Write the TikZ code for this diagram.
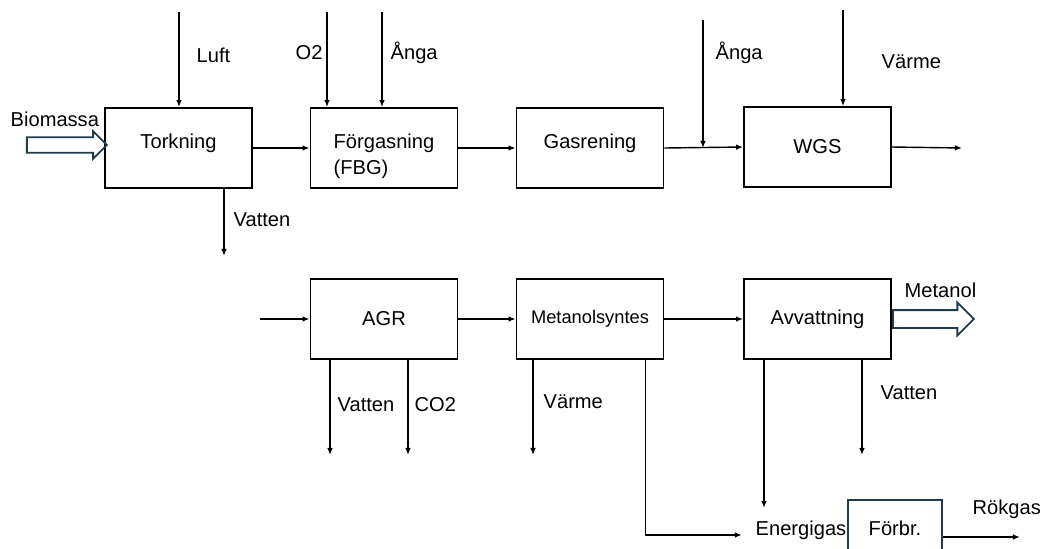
\documentclass[tikz,border=0pt]{standalone}
\usepackage{fontspec}
\setmainfont{Liberation Sans}
\usepackage{tikz}
\usetikzlibrary{arrows.meta,shapes.arrows}
\definecolor{pildark}{HTML}{1F3C4E}
\tikzset{%
  every steg/.style={
    draw,
    line width=1.3pt,
    minimum width=3.675cm,
    minimum height=2cm,
    font=\fontsize{14.3}{17}\selectfont
  },
  etikett/.style={
    anchor=base west,
    inner sep=0pt,
    font=\fontsize{14.3}{17}\selectfont
  },
  tjock pil/.style={
    single arrow,
    draw=pildark,
    line width=1.3pt,
    inner xsep=0pt,
    minimum height=2cm
  },
}

\begin{document}
\begin{tikzpicture}[>={Latex[length=5pt,width=4pt]}, x=0.025cm, y=-0.025cm, line width=1pt]
\useasboundingbox (0,0) rectangle (1040,548);

% processteg
\node[every steg, text height=9pt, text depth=9pt] (tork) at (178.5,148) {Torkning};
\node[every steg, align=left, font=\fontsize{14.3}{19}\selectfont, text height=40pt, text depth=2pt] (forg) at (384,148) {Förgasning\\(FBG)};
\node[every steg, text height=9pt, text depth=9pt] (gasr) at (590,148) {Gasrening};
\node[every steg] (wgs) at (817.5,147) {WGS};
\node[every steg] (agr) at (384,319) {AGR};
\node[every steg, font=\fontsize{13}{15}\selectfont] (msyn) at (590,319) {Metanolsyntes};
\node[every steg] (avv) at (817.5,319) {Avvattning};
\begin{scope}
    \clip (0,0) rectangle (1040,548);
    \node[every steg, draw=pildark, minimum width=2.35cm, minimum height=1.4cm] (forbr) at (895,528) {Förbr.};
\end{scope}

% texter
\node[etikett] (luft) at (196,62) {Luft};
\node[etikett] (syre) at (295,59) {O2};
\node[etikett] (anga) at (390,59) {Ånga};
\node[etikett] (angawgs) at (715,59) {Ånga};
\node[etikett] (varmewgs) at (881,68) {Värme};
\node[etikett] (vattentork) at (233,226) {Vatten};
\node[etikett] (biomassa) at (10,126) {Biomassa};
\node[etikett] (vattenagr) at (337,411) {Vatten};
\node[etikett] (co2) at (414,411) {CO2};
\node[etikett] (varmesyn) at (543,408) {Värme};
\node[etikett] (metanol) at (904,297) {Metanol};
\node[etikett] (vattenavv) at (880,399) {Vatten};
\node[etikett] (energigas) at (755,535) {Energigas};
\node[etikett] (rokgas) at (972,514) {Rökgas};

% lösa ändar
\coordinate (luftin) at (179,12);
\coordinate (syrein) at (327,12);
\coordinate (angain) at (382,12);
\coordinate (angawgsin) at (703,20);
\coordinate (varmewgsin) at (843,10);
\coordinate (wgsut) at (962,148);
\coordinate (vattentorkut) at (224,256);
\coordinate (agrin) at (260,319);
\coordinate (vattenagrut) at (330,455);
\coordinate (co2ut) at (408,455);
\coordinate (varmesynut) at (533,455);
\coordinate (vattenavvut) at (862,455);
\coordinate (gasavvut) at (764,508);
\coordinate (rokgasut) at (1020,537);

% tjocka pilar
\node[tjock pil, inner ysep=0.17cm, single arrow head extend=0.15cm] (biopil) at (63,145) {};
\node[tjock pil, anchor=tail, inner ysep=0.2cm, single arrow head extend=0.19cm, minimum height=2.025cm] (metpil) at (avv.east) {};

% flöden
\draw[->] (luftin) -- (luftin |- tork.north);
\draw[->] (syrein) -- (syrein |- forg.north);
\draw[->] (angain) -- (angain |- forg.north);
\draw[->] (tork.east) -- (forg.west);
\draw[->] (forg.east) -- (gasr.west);
\draw[->] (gasr.east) -- (wgs.west);
\draw[->] (angawgsin) -- (angawgsin |- gasr.east);
\draw[->] (varmewgsin) -- (varmewgsin |- wgs.north);
\draw[->] (wgs.east) -- (wgsut);
\draw[->] (vattentorkut |- tork.south) -- (vattentorkut);
\draw[->] (agrin) -- (agr.west);
\draw[->] (agr.east) -- (msyn.west);
\draw[->] (msyn.east) -- (avv.west);
\draw[->] (vattenagrut |- agr.south) -- (vattenagrut);
\draw[->] (co2ut |- agr.south) -- (co2ut);
\draw[->] (varmesynut |- msyn.south) -- (varmesynut);
\draw[->] ([xshift=-0.475cm]msyn.south east) |- ([xshift=-0.33cm]energigas.base west);
\draw[->] (gasavvut |- avv.south) -- (gasavvut);
\draw[->] (vattenavvut |- avv.south) -- (vattenavvut);
\draw[->] (rokgasut -| forbr.east) -- (rokgasut);
\end{tikzpicture}
\end{document}
